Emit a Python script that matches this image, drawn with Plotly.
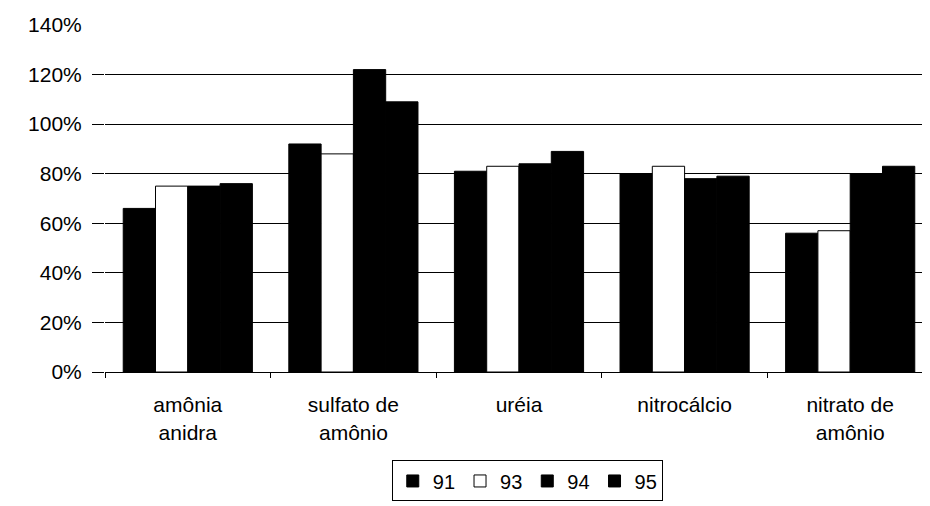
import plotly.graph_objects as go

categories = ["amônia<br>anidra", "sulfato de<br>amônio", "uréia", "nitrocálcio", "nitrato de<br>amônio"]
series_names = ["91", "93", "94", "95"]
v91 = [66, 92, 81, 80, 56]
v93 = [75, 88, 83, 83, 57]
v94 = [75, 122, 84, 78, 80]
v95 = [76, 109, 89, 79, 83]
grid_ticks = [0, 20, 40, 60, 80, 100, 120]
top_tick = [140]

fills = ["black", "white", "black", "black"]
values = [v91, v93, v94, v95]

FONT = "Liberation Sans, Arial, sans-serif"
FS = 21

fig = go.Figure()
for name, vals, fill in zip(series_names, values, fills):
    fig.add_trace(go.Bar(
        x=categories, y=vals, name=name,
        marker=dict(color=fill, line=dict(color="black", width=1)),
    ))
# invisible helper trace so the secondary (label-only) axis is drawn
fig.add_trace(go.Scatter(
    x=categories, y=[None] * len(categories), yaxis="y2",
    mode="markers", showlegend=False, hoverinfo="skip",
))

fig.update_layout(
    width=930, height=506,
    margin=dict(l=97, r=5, t=14, b=142),
    paper_bgcolor="white", plot_bgcolor="white",
    barmode="group", bargap=0.22, bargroupgap=0,
    font=dict(family=FONT, size=FS, color="black"),
    showlegend=True,
    legend=dict(
        orientation="h", x=0.51, xanchor="center", y=-0.314, yanchor="middle",
        bordercolor="black", borderwidth=1, bgcolor="white",
        font=dict(family=FONT, size=20, color="black"),
        itemwidth=30, tracegroupgap=0,
    ),
    yaxis=dict(
        range=[0, 140], tickmode="array", tickvals=grid_ticks,
        ticktext=[f"{v}%" for v in grid_ticks],
        showgrid=True, gridcolor="black", gridwidth=1,
        showline=False, zeroline=False,
        ticks="outside", ticklen=12, tickcolor="black", ticklabelstandoff=6,
        tickfont=dict(family=FONT, size=FS, color="black"),
    ),
    yaxis2=dict(
        overlaying="y", side="left", range=[0, 140],
        tickmode="array", tickvals=top_tick,
        ticktext=[f"{v}%" for v in top_tick],
        showgrid=False, showline=False, zeroline=False,
        ticks="outside", ticklen=12, tickcolor="rgba(0,0,0,0)", ticklabelstandoff=6,
        tickfont=dict(family=FONT, size=FS, color="black"),
    ),
    xaxis=dict(
        showline=True, linecolor="black", linewidth=1,
        ticks="outside", tickson="boundaries", ticklen=5, tickcolor="black",
        ticklabelstandoff=14,
        tickfont=dict(family=FONT, size=FS, color="black"),
    ),
)

fig.write_html("out.html")
